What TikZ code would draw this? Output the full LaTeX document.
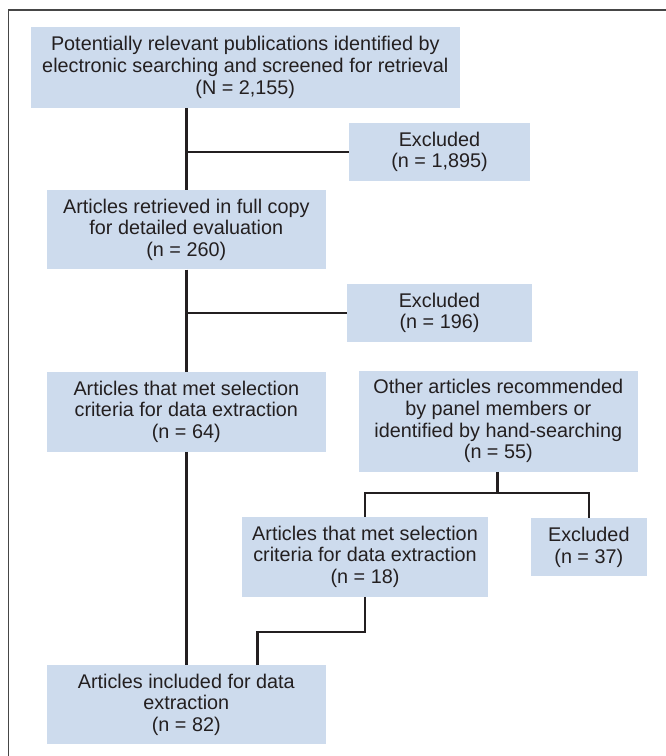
\documentclass[tikz,border=0pt]{standalone}
\usepackage{fontspec}
\setmainfont{Liberation Sans}
\usetikzlibrary{calc}
\definecolor{boxblue}{RGB}{205,219,237}
\definecolor{inkgray}{RGB}{35,31,32}
\definecolor{framegray}{RGB}{70,70,70}

\begin{document}
\begin{tikzpicture}[x=1pt, y=-1pt,
  box/.style={fill=boxblue, inner sep=0pt, align=center, text=inkgray,
              font=\fontsize{19.8}{21.7}\selectfont},
  link/.style={draw=inkgray, line width=2.4pt},
]
\useasboundingbox (0,0) rectangle (665,756);

% Frame
\draw[framegray, line width=1.8pt] (8.5,760) -- (8.5,10) -- (670,10);

% Main flow
\node[box, minimum width=429.5pt, minimum height=80.5pt] (pub) at (245.3, 67.3)
{Potentially relevant publications identified by\\
electronic searching and screened for retrieval\\
(N = 2,155)};
\node[box, minimum width=181pt, minimum height=57.4pt] (excla) at (439.5, 152)
{Excluded\\(n = 1,895)};
\node[box, minimum width=279.3pt, minimum height=79.3pt] (full) at (186.3, 229.7)
{Articles retrieved in full copy\\for detailed evaluation\\(n = 260)};
\node[box, minimum width=185pt, minimum height=57.7pt] (exclb) at (439.5, 312.8)
{Excluded\\(n = 196)};
\node[box, minimum width=279.3pt, minimum height=79.7pt] (met) at (186.3, 411.8)
{Articles that met selection\\criteria for data extraction\\(n = 64)};
\node[box, minimum width=279.3pt, minimum height=79.3pt] (incl) at (186.3, 704.7)
{Articles included for data\\extraction\\(n = 82)};

% Side flow
\node[box, minimum width=278.7pt, minimum height=100.7pt] (other) at (498.3, 421.3)
{Other articles recommended\\by panel members or\\identified by hand-searching\\(n = 55)};
\node[box, minimum width=245.4pt, minimum height=79.7pt] (metb) at (365, 556.8)
{Articles that met selection\\criteria for data extraction\\(n = 18)};
\node[box, minimum width=115.7pt, minimum height=57.7pt] (exclc) at (588.8, 547.2)
{Excluded\\(n = 37)};

% Connectors
\draw[link] (pub.south -| full.north) -- (full.north);
\draw[link] (full.north |- excla.west) -- (excla.west);
\draw[link] (full.south) -- (met.north);
\draw[link] (met.north |- exclb.west) -- (exclb.west);
\draw[link] (met.south) -- (incl.north);

\coordinate (split) at (497.3, 492.7);
\draw[link] (other.south -| split) -- (split);
\draw[link] (metb.north) |- (split) -| (exclc.north);

\coordinate (stair) at (257.3, 631.7);
\draw[link] (metb.south) |- (stair) -- (stair |- incl.north);
\end{tikzpicture}
\end{document}
